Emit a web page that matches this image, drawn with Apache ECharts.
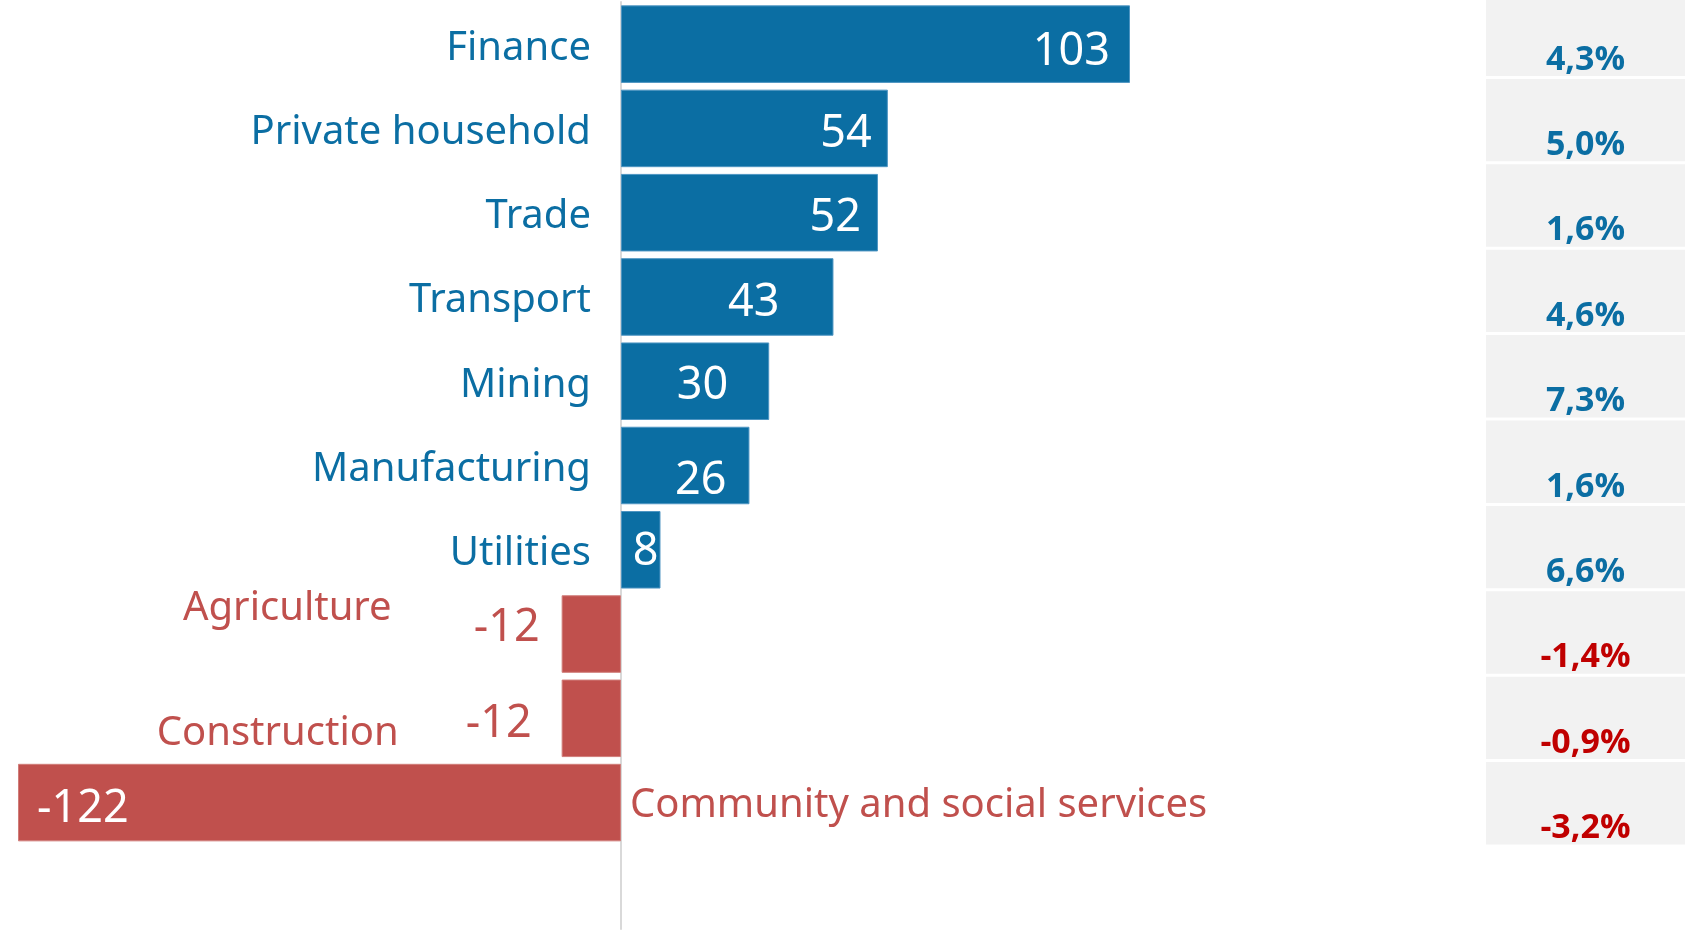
<!DOCTYPE html>
<html>
<head>
<meta charset="utf-8">
<script src="https://cdn.jsdelivr.net/npm/echarts@6/dist/echarts.min.js"></script>
<style>
  html, body { margin: 0; padding: 0; background: #ffffff; }
  #chart { width: 1690px; height: 930px; }
</style>
</head>
<body>
<div id="chart"></div>
<script>
// ---- data ----
const categories = ['Finance', 'Private household', 'Trade', 'Transport', 'Mining',
  'Manufacturing', 'Utilities', 'Agriculture', 'Construction', 'Community and social services'];
const changeValues = [103, 54, 52, 43, 30, 26, 8, -12, -12, -122];
const growthPct = [4.3, 5.0, 1.6, 4.6, 7.3, 1.6, 6.6, -1.4, -0.9, -3.2];

// ---- styles / layout (not data) ----
const BLUE = '#0B6EA3';
const RED = '#C0504D';
const PCT_BLUE = '#0B6EA3';
const PCT_RED = '#C00000';
const FONT = 'Noto Sans';
const valueInset = [20, 16, 17, 54, 41, 23, 2, 22, 30, 19];
const valueDy = [8, 6, 6, 6, 5, 16, 2, -6, 6, 7];
// category-name label placement per row: [position, distance, dy]
const nameLayout = [
  ['left', 30, 4], ['left', 30, 4], ['left', 30, 4], ['left', 30, 4], ['left', 30, 4],
  ['left', 30, 4], ['left', 30, 4], ['left', 170, -25], ['left', 163, 15], ['right', 9, 3]
];
const CELL_FILL = 1;

const chart = echarts.init(document.getElementById('chart'), null, { renderer: 'canvas' });

const yCats = categories.slice();
yCats.push('');

const barData = changeValues.map((v, i) => {
  let label;
  if (v >= 0) {
    label = { position: 'insideRight', distance: valueInset[i], offset: [0, valueDy[i]], color: '#ffffff' };
  } else if (i === changeValues.length - 1) {
    label = { position: 'insideLeft', distance: valueInset[i], offset: [0, valueDy[i]], color: '#ffffff' };
  } else {
    label = { position: 'left', distance: valueInset[i], offset: [0, valueDy[i]], color: RED };
  }
  return {
    value: v,
    itemStyle: { color: v >= 0 ? BLUE : RED, borderColor: v >= 0 ? '#4E95C2' : '#D07D7A', borderWidth: 1 },
    label: label
  };
});

const nameData = changeValues.map((v, i) => ({
  value: v,
  label: {
    position: nameLayout[i][0],
    distance: nameLayout[i][1],
    offset: [0, nameLayout[i][2]],
    color: v >= 0 ? BLUE : RED
  }
}));

const pctData = growthPct.map((p) => ({
  value: CELL_FILL,
  label: { color: p >= 0 ? PCT_BLUE : PCT_RED }
}));

const option = {
  animation: false,
  backgroundColor: '#ffffff',
  grid: [
    { left: 18, top: 2, width: 1112, height: 927, outerBoundsMode: 'none' },
    { left: 1486, top: -8, width: 199, height: 854, outerBoundsMode: 'none' }
  ],
  xAxis: [
    { gridIndex: 0, type: 'value', min: -122, max: 103, show: false },
    { gridIndex: 1, type: 'value', min: 0, max: 1, show: false }
  ],
  yAxis: [
    {
      gridIndex: 0, type: 'category', inverse: true, data: yCats,
      axisLine: { show: true, onZero: true, lineStyle: { color: '#D9D9D9', width: 2 } },
      axisTick: { show: false },
      splitLine: { show: false },
      axisLabel: { show: false }
    },
    {
      gridIndex: 1, type: 'category', inverse: true, data: categories, show: false
    }
  ],
  series: [
    {
      type: 'bar', xAxisIndex: 0, yAxisIndex: 0,
      barCategoryGap: '8%', barGap: '-100%',
      data: barData,
      label: { show: true, fontFamily: FONT, fontSize: 45, formatter: '{c}' }
    },
    {
      type: 'bar', xAxisIndex: 0, yAxisIndex: 0, silent: true,
      barCategoryGap: '8%', barGap: '-100%',
      itemStyle: { color: 'rgba(0,0,0,0)' },
      data: nameData,
      label: {
        show: true, fontFamily: FONT, fontSize: 40,
        formatter: (p) => categories[p.dataIndex]
      }
    },
    {
      type: 'bar', xAxisIndex: 1, yAxisIndex: 1, silent: true,
      barCategoryGap: '3.5%',
      itemStyle: { color: '#F2F2F2' },
      data: pctData,
      label: {
        show: true, position: 'insideBottom', distance: 0, offset: [0, 1],
        fontFamily: 'Open Sans', fontWeight: 'bold', fontSize: 34,
        formatter: (p) => growthPct[p.dataIndex].toFixed(1).replace('.', ',') + '%'
      }
    }
  ]
};

chart.setOption(option);
</script>
</body>
</html>
